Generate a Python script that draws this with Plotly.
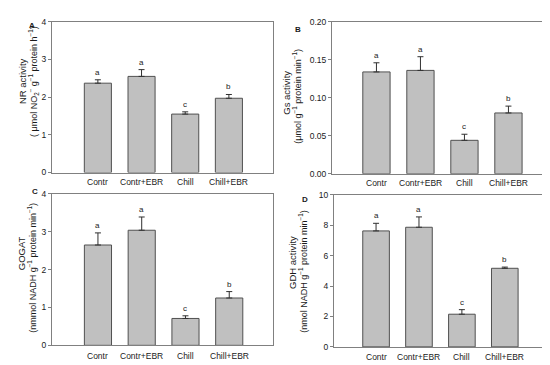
import plotly.graph_objects as go

categories = ["Contr", "Contr+EBR", "Chill", "Chill+EBR"]

nr_values = [2.37, 2.55, 1.55, 1.97]
nr_err = [0.09, 0.18, 0.06, 0.10]
nr_letters = ["a", "a", "c", "b"]

gs_values = [0.134, 0.136, 0.044, 0.080]
gs_err = [0.012, 0.018, 0.008, 0.009]
gs_letters = ["a", "a", "c", "b"]

gogat_values = [2.65, 3.04, 0.71, 1.25]
gogat_err = [0.32, 0.35, 0.07, 0.17]
gogat_letters = ["a", "a", "c", "b"]

gdh_values = [7.63, 7.87, 2.15, 5.17]
gdh_err = [0.50, 0.68, 0.30, 0.08]
gdh_letters = ["a", "a", "c", "b"]

FONT = "Liberation Sans, Arial, sans-serif"
BAR_FILL = "#c0c0c0"
BAR_LINE = "#505050"
TXT = "#1a1a1a"

panels = [
    dict(vals=nr_values, err=nr_err, let=nr_letters, ax="", label="A",
         xdom=[44/550, 265/550], ydom=[1-164/365, 1-9/365], xr=[-1.05, 4.01],
         yr=[0, 4], dtick=1, fmt="", xlab_y=174,
         t1="NR activity",
         t2="( μmol NO<sub>2</sub><sup>−</sup> g<sup>−1</sup> protein h<sup>−1</sup>)",
         t1pos=(14, 70), t2pos=(25, 71), lpos=(24, 13)),
    dict(vals=gs_values, err=gs_err, let=gs_letters, ax="2", label="B",
         xdom=[324/550, 544/550], ydom=[1-165.3/365, 1-9/365], xr=[-1.01, 3.99],
         yr=[0, 0.20], dtick=0.05, fmt=".2f", xlab_y=175,
         t1="Gs activity",
         t2="(μmol g<sup>−1</sup> protein min<sup>−1</sup>)",
         t1pos=(279, 82), t2pos=(289, 86), lpos=(290, 17)),
    dict(vals=gogat_values, err=gogat_err, let=gogat_letters, ax="3", label="C",
         xdom=[44/550, 265/550], ydom=[1-341.7/365, 1-186/365], xr=[-1.05, 4.0],
         yr=[0, 4], dtick=1, fmt="", xlab_y=353,
         t1="GOGAT",
         t2="(nmmol NADH g<sup>−1</sup> protein min<sup>−1</sup>)",
         t1pos=(13, 247), t2pos=(24, 262), lpos=(27, 184)),
    dict(vals=gdh_values, err=gdh_err, let=gdh_letters, ax="4", label="D",
         xdom=[326/550, 544/550], ydom=[1-343.3/365, 1-187/365], xr=[-0.98, 4.1],
         yr=[0, 10], dtick=2, fmt="", xlab_y=354,
         t1="GDH activity",
         t2="(nmol NADH g<sup>−1</sup> protein min<sup>−1</sup>)",
         t1pos=(285, 257), t2pos=(295, 266), lpos=(297, 192)),
]

fig = go.Figure()
annotations = []
layout = {}

for p in panels:
    ax = p["ax"]
    xref = "x" + ax
    yref = "y" + ax
    fig.add_trace(go.Bar(
        x=categories, y=p["vals"], xaxis=xref, yaxis=yref, width=0.62,
        marker=dict(color=BAR_FILL, line=dict(color=BAR_LINE, width=1)),
        error_y=dict(type="data", array=p["err"], arrayminus=[0]*4, symmetric=False,
                     color="#303030", thickness=1, width=3),
        showlegend=False, hoverinfo="skip",
    ))
    xkey = "xaxis" + ax
    ykey = "yaxis" + ax
    layout[xkey] = dict(domain=p["xdom"], range=p["xr"], anchor=yref,
                        showline=True, mirror=True, linecolor="#808080", linewidth=1,
                        ticks="", showgrid=False, zeroline=False, showticklabels=False)
    layout[ykey] = dict(domain=p["ydom"], range=p["yr"], anchor=xref,
                        dtick=p["dtick"], tickformat=p["fmt"],
                        showline=True, mirror=True, linecolor="#808080", linewidth=1,
                        ticks="outside", ticklen=3, tickcolor="#808080",
                        showgrid=False, zeroline=False,
                        tickfont=dict(family=FONT, size=8.5, color=TXT))
    for i, c in enumerate(categories):
        annotations.append(dict(x=c, y=p["vals"][i] + p["err"][i], xref=xref, yref=yref,
                                text=p["let"][i], showarrow=False, yanchor="bottom",
                                yshift=1, font=dict(family=FONT, size=8, color=TXT)))
        annotations.append(dict(x=c, y=1-p["xlab_y"]/365, xref=xref, yref="paper",
                                text=c, showarrow=False, yanchor="middle",
                                font=dict(family=FONT, size=8.5, color=TXT)))
    annotations.append(dict(x=p["t1pos"][0]/550, y=1-p["t1pos"][1]/365, xref="paper", yref="paper",
                            text=p["t1"], textangle=-90, showarrow=False,
                            xanchor="center", yanchor="middle",
                            font=dict(family=FONT, size=9.5, color=TXT)))
    annotations.append(dict(x=p["t2pos"][0]/550, y=1-p["t2pos"][1]/365, xref="paper", yref="paper",
                            text=p["t2"], textangle=-90, showarrow=False,
                            xanchor="center", yanchor="middle",
                            font=dict(family=FONT, size=9, color=TXT)))
    annotations.append(dict(x=p["lpos"][0]/550, y=1-p["lpos"][1]/365, xref="paper", yref="paper",
                            text="<b>" + p["label"] + "</b>", showarrow=False,
                            xanchor="center", yanchor="middle",
                            font=dict(family=FONT, size=8, color=TXT)))

fig.update_layout(
    width=550, height=365, margin=dict(l=0, r=0, t=0, b=0),
    paper_bgcolor="white", plot_bgcolor="white",
    annotations=annotations, **layout,
)

fig.write_html("out.html")
